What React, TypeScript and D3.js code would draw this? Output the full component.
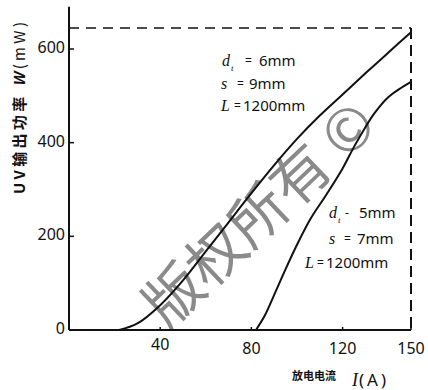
import React, { useEffect, useRef } from "react";
import * as d3 from "d3";

// discharge current I (A) vs UV output W (mW)
const curveA: [number, number][] = [
  [22, 0], [30, 14], [40, 53], [50, 106], [60, 168], [70, 230], [80, 292],
  [90, 352], [100, 408], [110, 458], [120, 503], [130, 548], [140, 592], [150, 636],
];
const curveB: [number, number][] = [
  [82, 0], [86, 32], [90, 75], [95, 130], [100, 182], [106, 238], [113, 290],
  [120, 345], [125, 391], [130, 433], [134, 463], [140, 497], [145, 515], [150, 530],
];
const xTicks = [40, 80, 120, 150];
const yTicks = [0, 200, 400, 600];
const topValue = 645;

const labelA = ["6mm", "9mm", "1200mm"];
const labelB = ["5mm", "7mm", "1200mm"];

export default function App() {
  const svgRef = useRef<SVGSVGElement>(null);

  useEffect(() => {
    const svg = d3.select(svgRef.current);
    svg.selectAll("*").remove();

    const x = d3.scaleLinear().domain([0, 150]).range([69, 411]);
    const y = d3.scaleLinear().domain([0, 600]).range([330, 49]);
    const ink = "#111";

    // watermark
    svg.append("text")
      .attr("transform", "translate(150,312) rotate(-43.5)")
      .attr("dominant-baseline", "central")
      .style("font-family", "'Noto Sans CJK SC', 'Noto Sans'")
      .style("font-size", "58px")
      .style("font-weight", "400")
      .style("fill", "#8a8a8a")
      .text("版权所有 ©");

    // axes
    svg.append("line")
      .attr("x1", x(0)).attr("x2", x(0))
      .attr("y1", y(690)).attr("y2", y(0))
      .style("stroke", ink).style("stroke-width", 2);
    svg.append("line")
      .attr("x1", x(0)).attr("x2", x(150))
      .attr("y1", y(0)).attr("y2", y(0))
      .style("stroke", ink).style("stroke-width", 2);

    // dashed guides
    svg.append("line")
      .attr("x1", x(0)).attr("x2", x(150))
      .attr("y1", y(topValue)).attr("y2", y(topValue))
      .style("stroke", ink).style("stroke-width", 1.6)
      .style("stroke-dasharray", "10 7");
    svg.append("line")
      .attr("x1", x(150)).attr("x2", x(150))
      .attr("y1", y(topValue)).attr("y2", y(0))
      .style("stroke", ink).style("stroke-width", 2)
      .style("stroke-dasharray", "11 6");

    // ticks
    svg.selectAll(".yt")
      .data(yTicks.filter((d) => d > 0))
      .enter()
      .append("line")
      .attr("x1", x(0)).attr("x2", x(0) + 5)
      .attr("y1", (d) => y(d)).attr("y2", (d) => y(d))
      .style("stroke", ink).style("stroke-width", 1.5);
    svg.selectAll(".yl")
      .data(yTicks)
      .enter()
      .append("text")
      .attr("x", x(0) - 4)
      .attr("y", (d) => y(d) - 2)
      .attr("text-anchor", "end")
      .attr("dominant-baseline", "central")
      .style("font-family", "'Noto Sans'")
      .style("font-size", "16px")
      .style("fill", ink)
      .text((d) => d);
    svg.selectAll(".xt")
      .data(xTicks)
      .enter()
      .append("line")
      .attr("x1", (d) => x(d)).attr("x2", (d) => x(d))
      .attr("y1", y(0)).attr("y2", y(0) - 3)
      .style("stroke", ink).style("stroke-width", 1.5);
    svg.selectAll(".xl")
      .data(xTicks)
      .enter()
      .append("text")
      .attr("x", (d) => x(d))
      .attr("y", (d) => (d === 40 ? 344 : 348))
      .attr("text-anchor", "middle")
      .attr("dominant-baseline", "central")
      .style("font-family", "'Noto Sans'")
      .style("font-size", "16px")
      .style("fill", ink)
      .text((d) => d);

    // curves
    const line = d3.line<[number, number]>()
      .x((d) => x(d[0]))
      .y((d) => y(d[1]))
      .curve(d3.curveCatmullRom);
    [curveA, curveB].forEach((c) => {
      svg.append("path")
        .attr("d", line(c))
        .style("fill", "none")
        .style("stroke", ink)
        .style("stroke-width", 2);
    });

    // parameter annotations
    const note = (
      left: number, eqX: number, valX: number, base: number,
      sym: string, sub: boolean, eq: string, val: string
    ) => {
      const g = svg.append("g").style("fill", ink);
      const t = g.append("text")
        .attr("x", left).attr("y", base)
        .style("font-family", "'Liberation Serif'")
        .style("font-style", "italic")
        .style("font-size", "16px");
      t.append("tspan").text(sym);
      if (sub) t.append("tspan").attr("dx", 1).attr("dy", 5).style("font-size", "9px").text("t");
      g.append("text")
        .attr("x", eqX).attr("y", base - 1)
        .style("font-family", "'Noto Sans'")
        .style("font-size", "12px")
        .text(eq);
      g.append("text")
        .attr("x", valX).attr("y", base)
        .style("font-family", "'Noto Sans'")
        .style("font-size", "15px")
        .text(val);
    };
    note(222, 245, 259, 66, "d", true, "=", labelA[0]);
    note(221, 237, 249, 89, "s", false, "=", labelA[1]);
    note(221, 234, 243, 111, "L", false, "=", labelA[2]);
    note(329, 345, 359, 218, "d", true, "-", labelB[0]);
    note(329, 344, 357, 244, "s", false, "=", labelB[1]);
    note(305, 317, 326, 268, "L", false, "=", labelB[2]);

    // axis titles
    const yt = svg.append("text")
      .attr("transform", "translate(18,108) rotate(-90)")
      .attr("text-anchor", "middle")
      .attr("dominant-baseline", "central")
      .attr("textLength", 172)
      .attr("lengthAdjust", "spacing")
      .style("font-family", "'Noto Sans CJK SC'")
      .style("font-size", "15px")
      .style("font-weight", "bold")
      .style("fill", ink);
    yt.append("tspan").text("UV输出功率 ");
    yt.append("tspan").style("font-style", "italic").text("W");
    yt.append("tspan").style("font-weight", "normal").text("(mW)");

    const xt = svg.append("text")
      .attr("x", 292).attr("y", 380)
      .style("fill", ink);
    xt.append("tspan")
      .style("font-family", "'Noto Sans CJK SC'")
      .style("font-size", "11px")
      .style("font-weight", "bold")
      .text("放电电流");
    xt.append("tspan")
      .attr("dx", 16).attr("dy", 6)
      .style("font-family", "'Liberation Serif'")
      .style("font-style", "italic")
      .style("font-size", "18px")
      .text("I");
    xt.append("tspan")
      .attr("dx", 1)
      .style("font-family", "'Noto Sans'")
      .style("font-size", "17px")
      .style("letter-spacing", "3px")
      .text("(A)");
  }, []);

  return (
    <svg
      ref={svgRef}
      width={428}
      height={390}
      style={{ position: "absolute", left: 0, top: 0, background: "#fff" }}
    />
  );
}
